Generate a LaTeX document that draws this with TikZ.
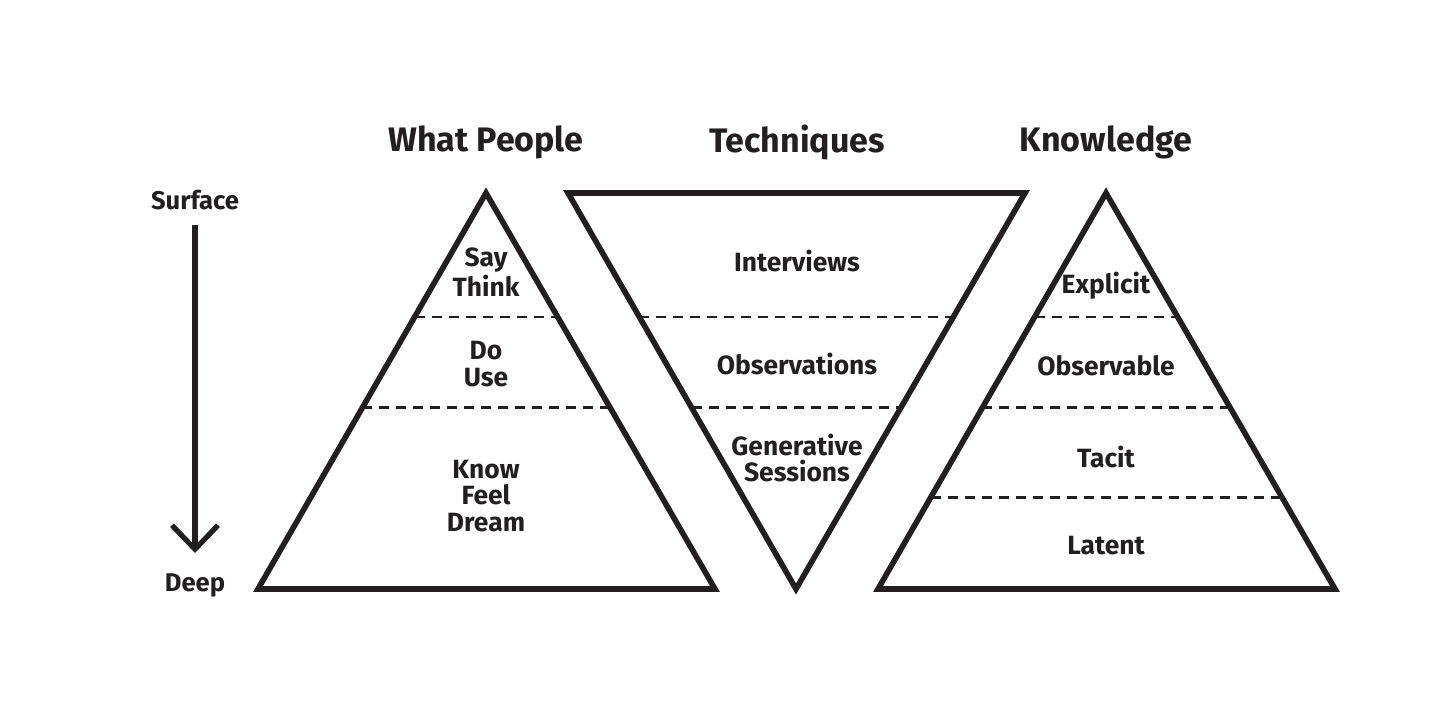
\documentclass[tikz,border=0pt]{standalone}
\usepackage{fontspec}
\setmainfont{Fira Sans}
\usetikzlibrary{arrows.meta, calc}
\definecolor{inkGrey}{HTML}{231F20}

\begin{document}
\begin{tikzpicture}[
  x=0.5pt, y=-0.5pt,
  tri/.style={draw=inkGrey, line width=2.8pt},
  divider/.style={draw=inkGrey, line width=1.3pt, dash pattern=on 5pt off 3.5pt},
  head/.style={font=\bfseries\fontsize{17}{20}\selectfont, text=inkGrey},
  layer/.style={font=\bfseries\fontsize{13.2}{13.4}\selectfont, text=inkGrey, align=center},
  side/.style={font=\bfseries\fontsize{12.8}{14}\selectfont, text=inkGrey},
  arrow/.style={-{Straight Barb[length=12pt, width=23pt]}, line width=2.6pt, draw=inkGrey},
]
\useasboundingbox (0,0) rectangle (1456,701);

% Surface -> Deep
\node[side] (surface) at (195,200) {Surface};
\node[side] (deep) at (195,585) {Deep};
\coordinate (arrowTop) at (195,225);
\coordinate (arrowEnd) at (195,553);
\draw[arrow] (arrowTop) -- (arrowEnd);

% Headings
\node[head] (people) at (486,142) {What People};
\node[head] (techniques) at (797,142) {Techniques};
\node[head] (knowledge) at (1106,142) {Knowledge};

% What People pyramid
\coordinate (wpTop) at (486,193);
\coordinate (wpL) at (258,589);
\coordinate (wpR) at (715,589);
\draw[tri] (wpTop) -- (wpL) -- (wpR) -- cycle;
\draw[divider] ($(wpTop)!0.313!(wpL)$) -- ($(wpTop)!0.313!(wpR)$);
\draw[divider] ($(wpTop)!0.542!(wpL)$) -- ($(wpTop)!0.542!(wpR)$);
\node[layer] (say) at (486,272) {Say\\Think};
\node[layer] (do) at (486,364) {Do\\Use};
\node[layer] (know) at (486,496) {Know\\Feel\\Dream};

% Techniques funnel
\coordinate (tqL) at (568,193);
\coordinate (tqR) at (1025,193);
\coordinate (tqBot) at (796,589);
\draw[tri] (tqL) -- (tqR) -- (tqBot) -- cycle;
\draw[divider] ($(tqBot)!0.687!(tqL)$) -- ($(tqBot)!0.687!(tqR)$);
\draw[divider] ($(tqBot)!0.458!(tqL)$) -- ($(tqBot)!0.458!(tqR)$);
\node[layer] (interviews) at (797,261) {Interviews};
\node[layer] (observations) at (797,364) {Observations};
\node[layer] (generative) at (797,458) {Generative\\Sessions};

% Knowledge pyramid
\coordinate (knTop) at (1106,193);
\coordinate (knL) at (878,589);
\coordinate (knR) at (1335,589);
\draw[tri] (knTop) -- (knL) -- (knR) -- cycle;
\draw[divider] ($(knTop)!0.313!(knL)$) -- ($(knTop)!0.313!(knR)$);
\draw[divider] ($(knTop)!0.542!(knL)$) -- ($(knTop)!0.542!(knR)$);
\draw[divider] ($(knTop)!0.769!(knL)$) -- ($(knTop)!0.769!(knR)$);
\node[layer] (explicit) at (1106,286) {Explicit};
\node[layer] (observable) at (1106,366) {Observable};
\node[layer] (tacit) at (1106,457) {Tacit};
\node[layer] (latent) at (1106,546) {Latent};

\end{tikzpicture}
\end{document}
